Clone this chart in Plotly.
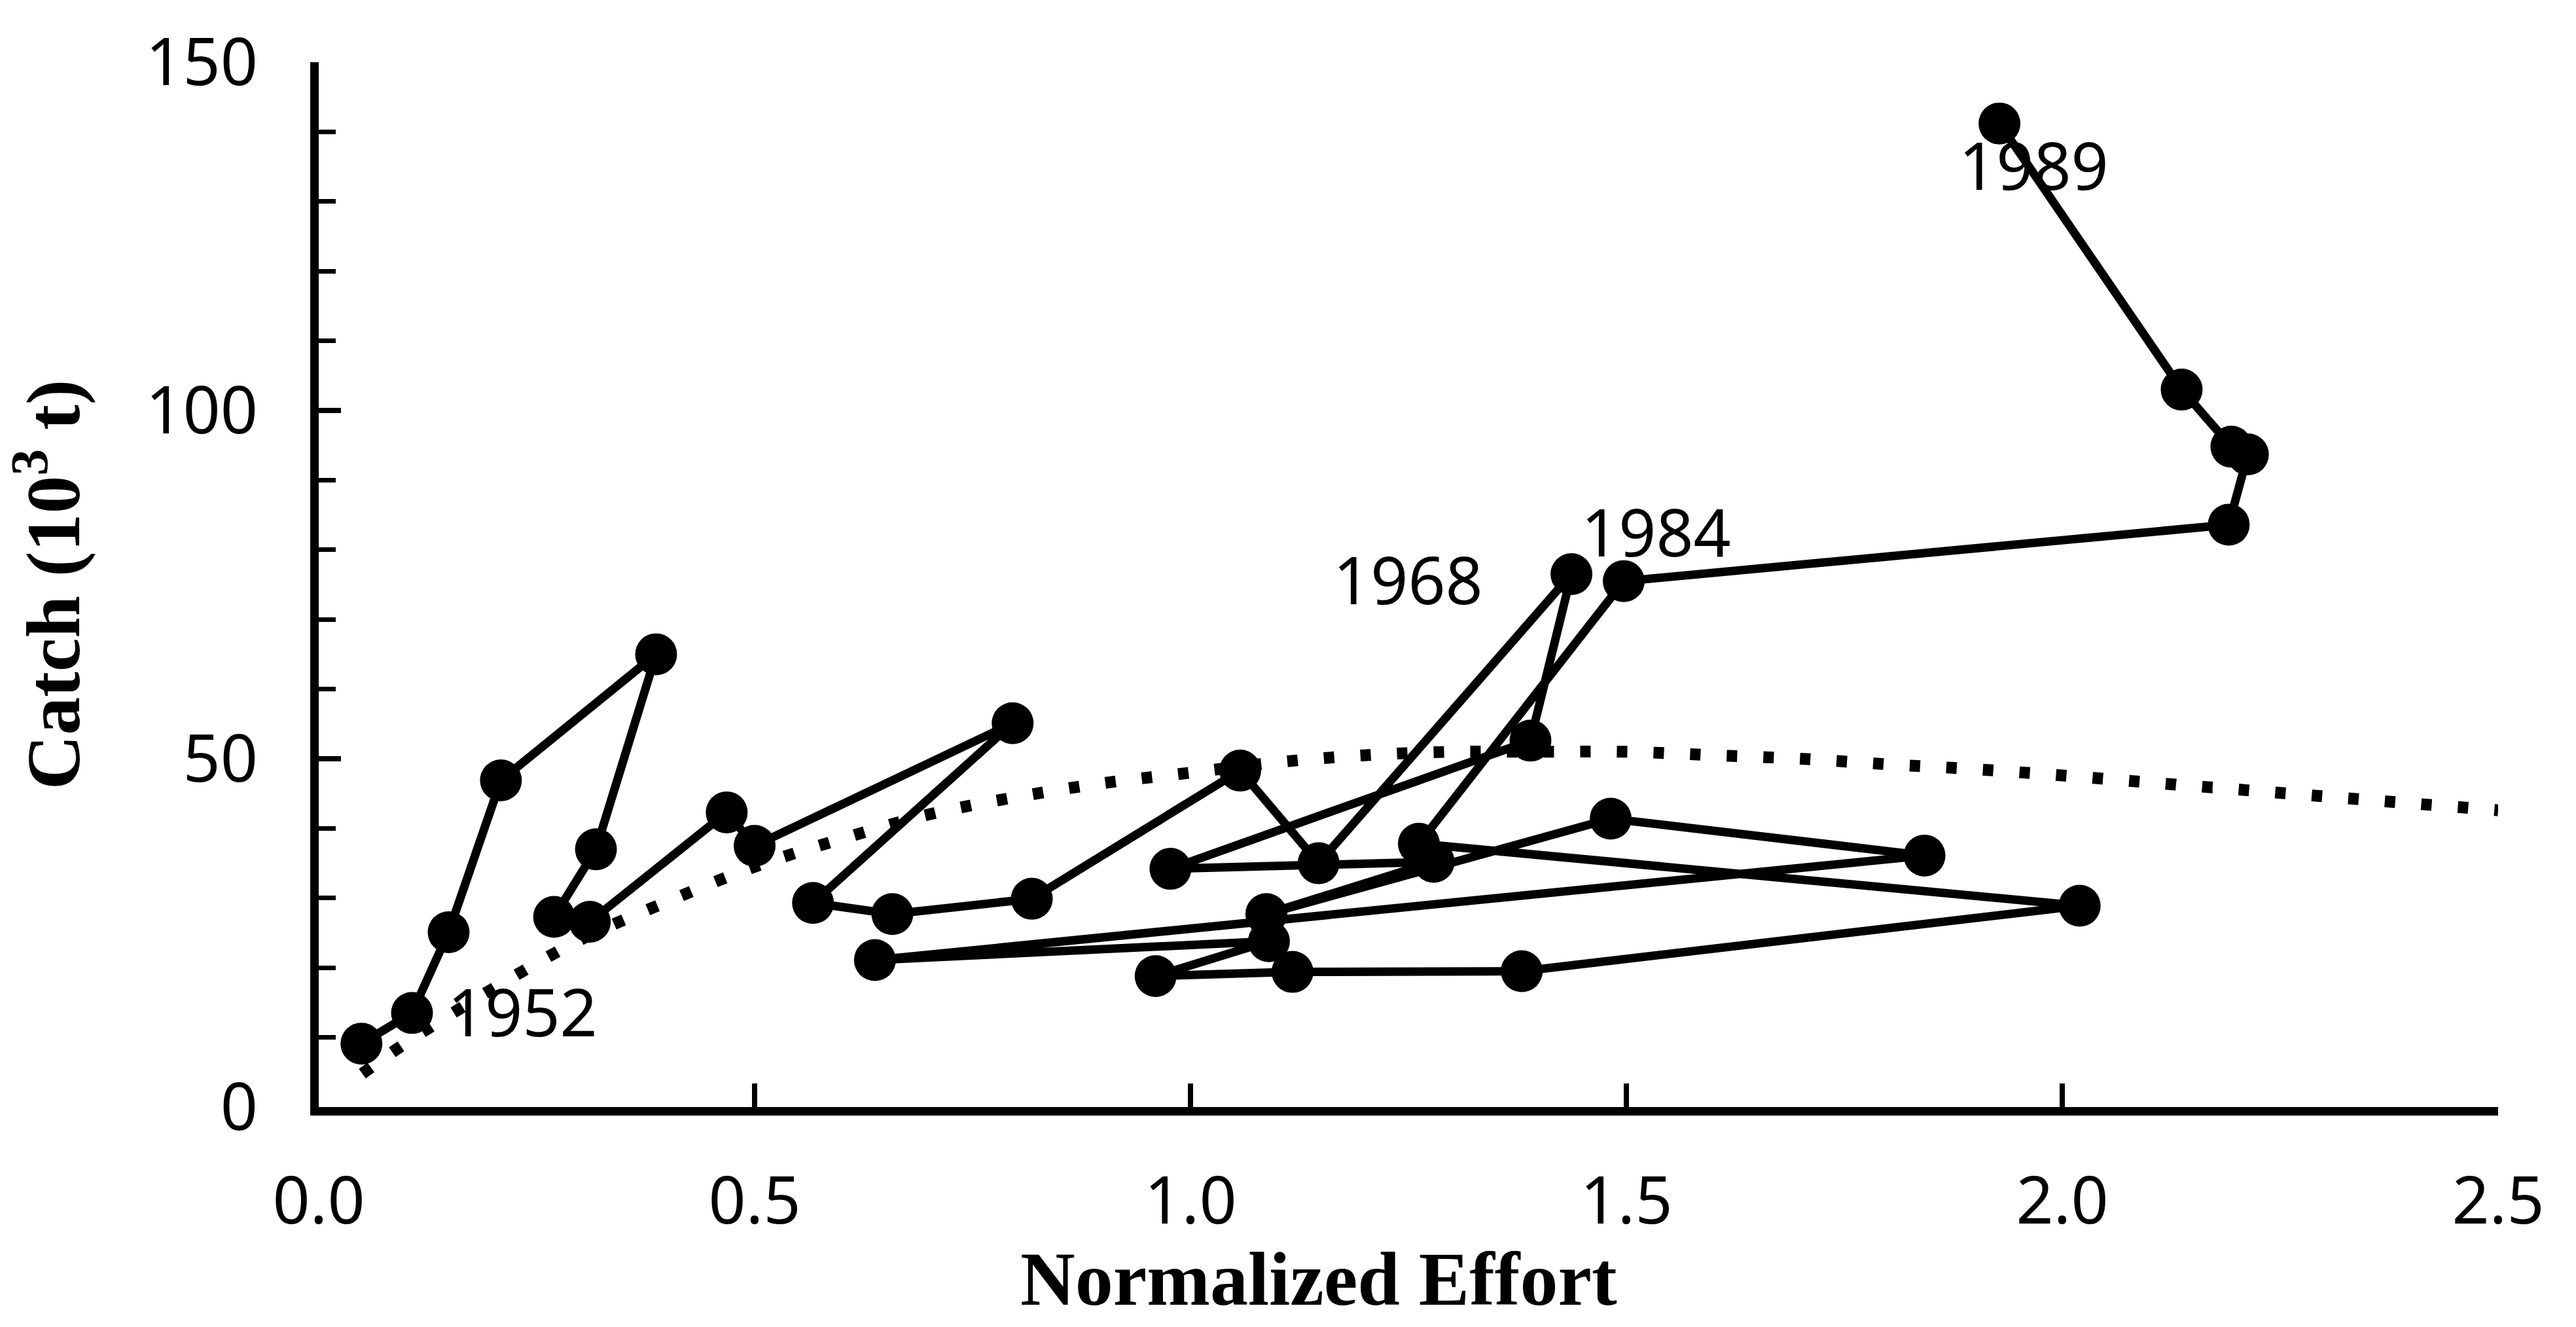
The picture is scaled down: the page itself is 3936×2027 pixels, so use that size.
import plotly.graph_objects as go

# Catch versus normalized fishing effort, one point per year, joined in time order
effort = [0.049, 0.107, 0.149, 0.209, 0.387, 0.318, 0.270, 0.311, 0.468, 0.500,
          0.796, 0.567, 0.658, 0.818, 1.057, 1.147, 1.437, 1.390, 0.977, 1.279,
          1.087, 1.482, 1.842, 0.638, 1.090, 0.960, 1.117, 1.380, 2.020, 1.262,
          1.497, 2.191, 2.213, 2.194, 2.137, 1.928]
catch = [9.1, 13.5, 25.1, 46.9, 65.0, 37.0, 27.3, 26.6, 42.3, 37.5,
         55.1, 29.3, 27.7, 29.9, 48.3, 35.0, 76.5, 52.6, 34.2, 35.2,
         27.7, 41.4, 36.1, 21.1, 23.8, 18.8, 19.4, 19.5, 28.9, 37.8,
         75.5, 83.6, 93.7, 94.8, 103.0, 141.2]

# Equilibrium yield curve (dotted)
curve_effort = [0.05, 0.1, 0.2, 0.3, 0.4, 0.5, 0.6, 0.7, 0.8, 0.9, 1.0, 1.1, 1.2,
                1.3, 1.4, 1.5, 1.6, 1.7, 1.8, 1.9, 2.0, 2.1, 2.2, 2.3, 2.4, 2.5]
curve_catch = [4.8, 9.2, 17.0, 24.0, 29.5, 34.5, 38.5, 42.0, 44.5, 46.5, 48.0, 49.5,
               50.5, 51.0, 51.0, 51.0, 50.5, 50.0, 49.2, 48.5, 47.6, 46.6, 45.6,
               44.6, 43.6, 42.6]

# Year labels and the index of the point each one names
label_text = ["1952", "1968", "1984", "1989"]
label_index = [0, 16, 30, 35]

x_ticks = [0.0, 0.5, 1.0, 1.5, 2.0, 2.5]
y_ticks = [0, 50, 100, 150]

tick_font = dict(family="Noto Sans", size=100, color="black")
title_font = dict(family="Liberation Serif", size=116, color="black", weight="bold")

fig = go.Figure()

fig.add_trace(go.Scatter(
    x=curve_effort, y=curve_catch, mode="lines",
    line=dict(color="black", width=18, dash="16px,40px", shape="spline"),
    hoverinfo="skip", cliponaxis=False,
))

fig.add_trace(go.Scatter(
    x=effort, y=catch, mode="lines+markers",
    line=dict(color="black", width=13),
    marker=dict(color="black", size=64, line=dict(width=0)),
    cliponaxis=False,
))

# label offsets in pixels from each named point
offsets = [(246, 50), (-250, -7), (49, 77), (52, -62)]
for txt, idx, (dx, dy) in zip(label_text, label_index, offsets):
    fig.add_annotation(
        x=effort[idx], y=catch[idx], xref="x", yref="y",
        text=txt, showarrow=False, xshift=dx, yshift=dy,
        font=tick_font, xanchor="center", yanchor="middle",
    )

fig.add_annotation(
    x=0.459, y=-0.165, xref="paper", yref="paper",
    text="Normalized Effort", showarrow=False,
    font=title_font, xanchor="center", yanchor="middle",
)

fig.update_layout(
    width=3936, height=2027,
    margin=dict(l=487, r=119, t=95, b=336),
    plot_bgcolor="white", paper_bgcolor="white",
    showlegend=False,
)

fig.update_xaxes(
    range=[0, 2.5], showline=True, linewidth=13, linecolor="black",
    ticks="inside", ticklen=36, tickwidth=8, tickcolor="black",
    tickvals=x_ticks, ticktext=[f"{v:.1f}" for v in x_ticks],
    tickfont=tick_font, ticklabelstandoff=45,
    showgrid=False, zeroline=False,
)

fig.update_yaxes(
    range=[0, 150], showline=True, linewidth=13, linecolor="black",
    ticks="inside", ticklen=34, tickwidth=8, tickcolor="black",
    tickvals=y_ticks, tickfont=tick_font, ticklabelstandoff=60,
    minor=dict(dtick=10, ticks="inside", ticklen=26, tickwidth=7, tickcolor="black"),
    showgrid=False, zeroline=False,
    title=dict(text="Catch (10<sup>3</sup> t)", font=title_font, standoff=100),
)

fig.write_html("out.html")
